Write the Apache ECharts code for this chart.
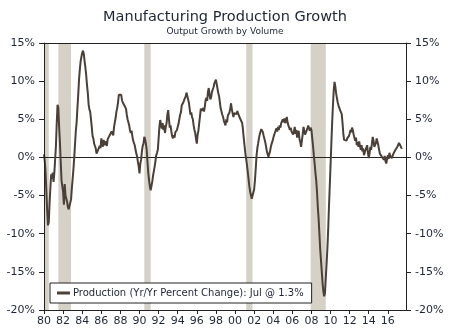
<!DOCTYPE html>
<html>
<head>
<meta charset="utf-8">
<script src="https://cdn.jsdelivr.net/npm/echarts@6/dist/echarts.min.js"></script>
<style>
html,body{margin:0;padding:0;background:#fff;}
#chart{width:450px;height:331px;}
</style>
</head>
<body>
<div id="chart"></div>
<script>
// ---- Data ----
var titleText = 'Manufacturing Production Growth';
var subtitleText = 'Output Growth by Volume';
var seriesName = 'Production (Yr/Yr Percent Change): Jul @ 1.3%';
var startYear = 1980; // monthly data starting Jan 1980
var production = [
  0.4, -0.5, -2.0, -4.5, -7.0, -8.9, -8.5, -6.0, -4.0, -2.2, -2.8, -2.0,
  -3.2, -2.0, -1.8, 1.5, 4.5, 6.9, 6.5, 4.0, 2.0, -0.5, -3.0, -2.8,
  -4.5, -6.2, -3.5, -5.0, -5.4, -5.8, -6.5, -6.8, -6.6, -6.8, -5.5, -4.0,
  -2.8, -1.5, 0.0, 1.8, 3.5, 4.6, 6.5, 8.2, 10.2, 11.5, 12.6, 13.2,
  13.7, 14.0, 13.6, 12.6, 11.8, 10.8, 9.5, 8.5, 7.0, 6.3, 6.0, 5.8,
  4.0, 2.8, 2.5, 1.8, 1.5, 1.2, 0.5, 0.7, 1.0, 0.9, 1.5, 1.2,
  2.5, 2.0, 1.4, 2.3, 1.6, 1.8, 2.1, 1.5, 2.4, 2.6, 2.2, 3.0,
  2.8, 3.4, 3.6, 2.9, 4.0, 4.6, 5.2, 6.0, 6.5, 7.2, 8.2, 8.3,
  8.0, 8.2, 7.5, 7.2, 7.4, 6.8, 6.6, 6.4, 5.6, 5.0, 4.6, 4.2,
  3.6, 3.2, 3.5, 2.8, 2.2, 2.0, 1.6, 1.0, 0.5, 0.1, -0.6, -1.2,
  -2.1, -0.8, -0.3, 0.8, 1.5, 1.8, 2.7, 2.4, 1.8, 1.0, -0.6, -2.0,
  -3.0, -3.8, -4.3, -4.1, -3.2, -2.4, -1.8, -1.2, -0.5, 0.3, 0.6, 1.0,
  2.5, 4.0, 4.9, 4.7, 3.8, 4.5, 3.6, 4.2, 3.2, 4.0, 4.5, 5.6,
  6.2, 5.0, 3.9, 4.2, 3.4, 2.8, 2.5, 2.9, 2.6, 3.3, 3.1, 3.6,
  3.5, 4.4, 5.0, 5.6, 5.9, 6.8, 6.6, 7.2, 7.5, 7.4, 8.0, 8.5,
  8.6, 8.3, 7.2, 6.4, 5.6, 5.9, 5.3, 5.0, 4.2, 3.6, 3.2, 2.4,
  1.8, 3.0, 3.5, 4.5, 5.4, 6.4, 6.1, 6.0, 6.5, 6.0, 6.6, 7.5,
  7.8, 7.4, 8.6, 9.1, 8.2, 7.6, 7.9, 8.6, 8.4, 9.2, 9.7, 9.6,
  10.2, 10.3, 9.0, 8.4, 8.0, 7.2, 6.4, 6.6, 5.6, 5.3, 4.8, 4.5,
  4.2, 5.0, 4.6, 5.5, 5.3, 5.9, 6.4, 7.1, 6.3, 5.8, 5.3, 5.8,
  5.6, 6.0, 5.7, 6.1, 5.7, 5.8, 5.2, 5.4, 5.0, 4.5, 3.6, 2.5,
  1.5, 0.5, -0.2, -1.0, -1.9, -2.8, -3.8, -4.5, -5.0, -5.4, -5.6, -5.2,
  -4.2, -3.0, -1.5, 0.2, 1.2, 1.8, 2.5, 3.0, 3.4, 3.7, 3.8, 3.3,
  2.8, 2.4, 2.0, 1.4, 0.8, 0.4, 0.1, 0.3, 0.8, 1.4, 1.8, 2.1,
  2.5, 2.9, 3.2, 3.0, 3.8, 3.4, 4.0, 3.6, 4.2, 3.9, 4.5, 4.3,
  5.0, 4.6, 5.1, 4.5, 4.8, 5.3, 4.6, 4.2, 4.4, 3.6, 3.9, 3.4,
  3.6, 3.0, 3.4, 4.0, 3.1, 3.6, 2.6, 2.8, 3.5, 2.4, 2.0, 1.4,
  2.2, 3.0, 4.0, 3.5, 3.0, 3.2, 2.8, 3.8, 4.2, 3.8, 3.5, 3.9,
  3.6, 2.5, 1.5, 0.3, -0.8, -2.0, -3.0, -4.5, -6.5, -8.0, -10.0, -12.0,
  -13.5, -15.0, -16.5, -17.6, -18.2, -17.8, -15.8, -14.0, -12.0, -9.6, -6.5, -3.8,
  -1.0, 1.8, 4.5, 6.8, 8.8, 9.9, 9.3, 8.4, 7.8, 7.2, 6.8, 6.6,
  6.2, 6.0, 5.7, 4.6, 3.2, 2.3, 2.2, 2.4, 2.2, 2.5, 2.3, 2.8,
  3.1, 3.6, 3.3, 3.9, 3.6, 3.0, 2.8, 2.2, 2.6, 1.6, 2.0, 1.4,
  2.1, 1.5, 1.0, 1.6, 0.8, 1.2, 0.3, 0.1, 1.0, 0.8, 1.6, 0.6,
  -0.1, 0.5, 1.4, 1.0, 1.8, 2.7, 2.2, 1.4, 1.2, 1.9, 2.5, 2.4,
  1.6, 1.0, 0.5, 0.3, 0.6, 0.0, 0.1, -0.3, 0.2, -0.5, -0.8, -0.2,
  0.3, -0.2, 0.6, 0.2, 0.4, -0.1, 0.1, 0.5, 0.6, 0.9, 0.7, 1.0,
  1.4, 1.6, 1.9, 1.8, 1.5, 1.2, 1.3
];
// recession periods (decimal years)
var recessionStart = [1980.08, 1981.5, 1990.5, 2001.17, 2007.92];
var recessionEnd   = [1980.5, 1982.83, 1991.17, 2001.83, 2009.5];
var yMin = -20, yMax = 15, yStep = 5;
var xMin = 1980, xMax = 2017.9, xStep = 2;

// ---- Build ----
var lineData = production.map(function (v, i) { return [startYear + i / 12, v]; });
var areas = recessionStart.map(function (s, i) { return [{ xAxis: s }, { xAxis: recessionEnd[i] }]; });

var txt = '#1e2536';
var font = 'DejaVu Sans';
var chart = echarts.init(document.getElementById('chart'), null, { renderer: 'canvas' });
var yAxisCommon = {
  type: 'value', min: yMin, max: yMax, interval: yStep, z: 10,
  axisLine: { show: true, lineStyle: { color: '#222', width: 1 } },
  axisTick: { show: true, inside: false, length: 5, lineStyle: { color: '#222' } },
  axisLabel: { color: txt, fontFamily: font, fontSize: 11, margin: 9, formatter: function (v) { return v + '%'; } },
  splitLine: { show: false }
};
chart.setOption({
  animation: false,
  backgroundColor: '#fff',
  title: [
    { text: titleText, left: 'center', top: 5, textStyle: { fontFamily: font, fontSize: 14.5, fontWeight: 'normal', color: txt } },
    { text: subtitleText, left: 'center', top: 22, textStyle: { fontFamily: font, fontSize: 9, fontWeight: 'normal', color: txt } }
  ],
  grid: { left: 44, right: 44, top: 43, bottom: 21, containLabel: false },
  legend: {
    left: 50, top: 283, orient: 'horizontal',
    backgroundColor: '#fff', borderColor: '#222', borderWidth: 1,
    padding: [5, 8, 5, 7],
    itemWidth: 13, itemHeight: 3, itemGap: 4,
    textStyle: { fontFamily: font, fontSize: 10, color: txt, padding: [0, 0, 0, -2] },
    data: [{ name: seriesName, icon: 'rect' }]
  },
  xAxis: [
    {
      type: 'value', min: xMin, max: xMax, interval: xStep, position: 'bottom', z: 10,
      axisLine: { show: true, onZero: false, lineStyle: { color: '#222', width: 1 } },
      axisTick: { show: true, length: 4, lineStyle: { color: '#222' } },
      axisLabel: { color: txt, fontFamily: font, fontSize: 11, margin: 6, showMaxLabel: false,
        formatter: function (v) { var y = Math.round(v) % 100; return (y < 10 ? '0' : '') + y; } },
      splitLine: { show: false }
    },
    {
      type: 'value', min: xMin, max: xMax, position: 'top', z: 10,
      axisLine: { show: true, onZero: false, lineStyle: { color: '#222', width: 1 } },
      axisTick: { show: false }, axisLabel: { show: false }, splitLine: { show: false }
    }
  ],
  yAxis: [
    Object.assign({}, yAxisCommon, { position: 'left' }),
    Object.assign({}, yAxisCommon, { position: 'right' })
  ],
  series: [
    {
      name: 'recessions', type: 'line', data: [], z: 1, silent: true,
      markArea: { silent: true, itemStyle: { color: '#d5d1c7' }, data: areas }
    },
    {
      name: seriesName, type: 'line', data: lineData, z: 5,
      showSymbol: false, symbol: 'none', smooth: false,
      lineStyle: { color: '#4b4038', width: 2 },
      itemStyle: { color: '#4b4038' },
      markLine: {
        silent: true, symbol: 'none', label: { show: false },
        lineStyle: { color: '#222', width: 1, type: 'solid' },
        data: [{ yAxis: 0 }]
      }
    }
  ]
});
</script>
</body>
</html>
